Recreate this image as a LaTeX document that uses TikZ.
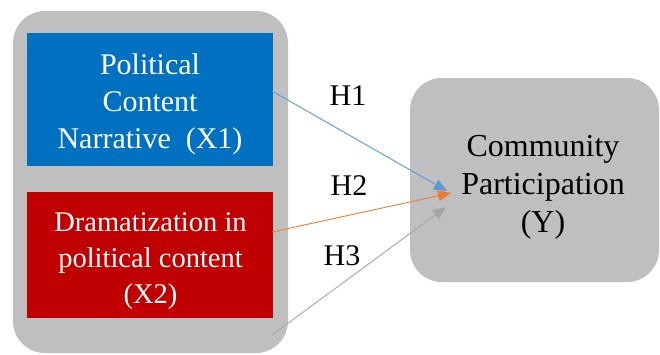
\documentclass[tikz,border=0pt]{standalone}
\usepackage{fontspec}
\setmainfont{Liberation Serif}
\newfontfamily\tnr{Liberation Serif}
\usetikzlibrary{arrows.meta}
\definecolor{boxblue}{HTML}{0070C0}
\definecolor{boxred}{HTML}{C00000}
\definecolor{boxgray}{HTML}{BFBFBF}
\definecolor{lnblue}{HTML}{5B9BD5}
\definecolor{lnorange}{HTML}{ED7D31}
\definecolor{lngray}{HTML}{A5A5A5}
\begin{document}
\begin{tikzpicture}[x=1pt,y=-1pt,
  every node/.style={font=\tnr\fontsize{30}{37}\selectfont, align=center, inner sep=0pt},
  grpbox/.style={fill=boxgray, rounded corners=32pt, draw=none},
  varbox/.style={draw=none, minimum width=246pt, text=white},
  lbl/.style={anchor=base},
  arr/.style={line width=0.9pt, -{Triangle[length=13pt,width=11pt]}},
  hlabel/.style={text=black, anchor=base}]
\useasboundingbox (0,0) rectangle (660,354);
\fill[white] (0,0) rectangle (660,354);
% grouping boxes
\node[grpbox, minimum width=275pt, minimum height=342pt] (grp) at (150.5,182) {};
\node[grpbox, minimum width=249pt, minimum height=204pt] (y) at (534.5,180) {};
\node[lbl, font=\tnr\fontsize{32}{38}\selectfont] (ytxt) at (543,232) {Community\\Participation\\(Y)};
% variable boxes
\node[varbox, fill=boxblue, minimum height=133pt] (x1) at (150,99.5) {};
\node[varbox, fill=boxred, minimum height=126pt] (x2) at (150,255) {};
\node[lbl, text=white] (x1txt) at (150,148) {Political\\Content\\Narrative\ \ (X1)};
\node[lbl, text=white, font=\tnr\fontsize{28.5}{36}\selectfont] (x2txt) at (150.5,303) {Dramatization in\\political content\\(X2)};
% connector endpoints
\coordinate (s1) at (272,91);
\coordinate (s2) at (272,232);
\coordinate (s3) at (272,335);
\coordinate (t1) at (447,191);
\coordinate (t2) at (451,193);
\coordinate (t3) at (446,207);
\draw[arr, lnblue] (s1) -- (t1);
\draw[arr, lnorange] (s2) -- (t2);
\draw[arr, lngray] (s3) -- (t3);
% labels
\node[hlabel] (h1) at (348,105) {H1};
\node[hlabel] (h2) at (349,195) {H2};
\node[hlabel] (h3) at (342,265) {H3};
\end{tikzpicture}
\end{document}
